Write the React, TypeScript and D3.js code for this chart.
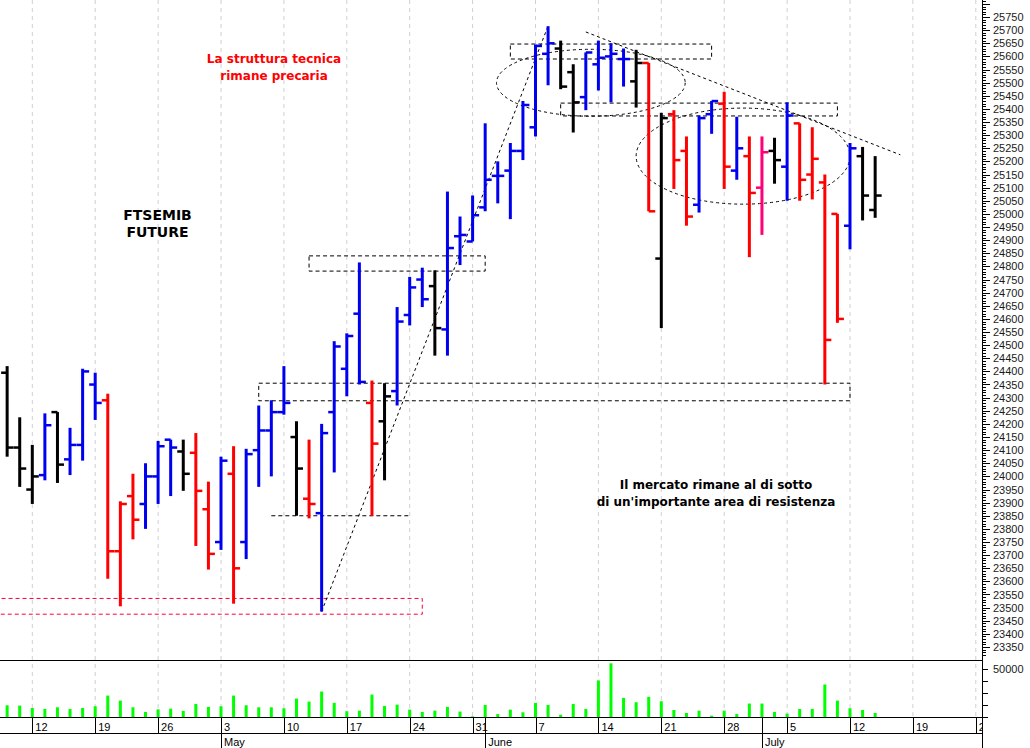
import React from 'react';
import * as d3 from 'd3';

// daily OHLC, FTSEMIB future, from Thu 8 Apr 2021 (index 0) to Wed 14 Jul 2021
const opens = [24395, 24110, 23950, 24005, 24245, 24065, 24120, 24350, 24290, 23715,
  23925, 23895, 24000, 24140, 24095, 24090, 23875, 23750, 24010, 23750,
  24100, 24175, 24245, 24150, 23915, 23860, 24245, 24410, 24620, 24280,
  24210, 24325, 24615, 24750, 24725, 24560, 24915, 24895, 25025, 25145,
  25165, 25240, 25330, 25610, 25630, 25540, 25445, 25570, 25600, 25590,
  25505, 25575, 24830, 25380, 25240, 25035, 25380, 25420, 25165, 25220,
  25100, 25240, 25180, 25345, 25150, 25120, 25000, 24955, 25220, 25015];
const highs = [24420, 24225, 24120, 24240, 24245, 24185, 24410, 24395, 24315, 23905,
  24010, 24050, 24135, 24140, 24140, 24165, 23980, 24075, 24115, 24105,
  24270, 24290, 24420, 24210, 24140, 24200, 24515, 24545, 24815, 24365,
  24355, 24645, 24760, 24795, 24785, 25085, 24990, 25070, 25345, 25200,
  25270, 25430, 25645, 25715, 25660, 25570, 25615, 25660, 25650, 25630,
  25625, 25575, 25385, 25395, 25295, 25375, 25430, 25465, 25370, 25295,
  25295, 25290, 25425, 25345, 25330, 25150, 25000, 25270, 25255, 25220];
const lows = [24075, 23960, 23895, 23985, 23975, 24005, 24060, 24215, 23610, 23505,
  23760, 23800, 23895, 23925, 23945, 23735, 23645, 23720, 23515, 23685,
  23960, 24000, 24235, 23850, 23840, 23485, 24015, 24305, 24350, 23850,
  23985, 24270, 24575, 24645, 24460, 24460, 24805, 24895, 25010, 25040,
  24980, 25205, 25295, 25490, 25475, 25310, 25395, 25470, 25425, 25485,
  25405, 25010, 24565, 25095, 24955, 25005, 25305, 25095, 25130, 24835,
  24920, 25115, 25050, 25050, 25055, 24350, 24585, 24865, 24975, 24985];
const closes = [24110, 24030, 24000, 24195, 24045, 24120, 24400, 24280, 23715, 23895,
  23835, 24000, 24115, 24110, 24010, 23945, 23705, 24060, 23650, 24085,
  24175, 24245, 24280, 24030, 23895, 24165, 24495, 24535, 24360, 24125,
  24305, 24590, 24720, 24675, 24565, 24870, 24920, 24995, 25130, 25145,
  25240, 25415, 25640, 25650, 25485, 25425, 25615, 25595, 25610, 25590,
  25575, 25010, 25365, 25205, 24990, 25365, 25430, 25180, 25250, 25080,
  25235, 25205, 25375, 25130, 25210, 24520, 24600, 25250, 25070, 25070];
// k = black, b = blue, r = red, p = pink
const barColors = ['k', 'k', 'k', 'b', 'k', 'b', 'b', 'b', 'r', 'r',
  'r', 'b', 'b', 'b', 'k', 'r', 'r', 'b', 'r', 'b',
  'b', 'b', 'b', 'k', 'r', 'b', 'b', 'b', 'b', 'r',
  'k', 'b', 'b', 'b', 'k', 'b', 'b', 'b', 'b', 'b',
  'b', 'b', 'b', 'b', 'k', 'k', 'b', 'b', 'b', 'b',
  'k', 'r', 'k', 'r', 'r', 'b', 'b', 'r', 'b', 'r',
  'p', 'k', 'b', 'r', 'r', 'r', 'r', 'b', 'k', 'k'];
const volumes = [12200, 11900, 9400, 8400, 10100, 8400, 9400, 11200, 22300, 17100,
  10100, 5200, 8000, 8700, 6300, 13600, 10500, 11200, 22300, 12200,
  10100, 10100, 9100, 19200, 16000, 26500, 14700, 6000, 6600, 23400,
  11500, 12900, 7700, 5200, 6600, 10500, 5600, 700, 12600, 3100,
  7700, 4900, 14700, 12600, 2400, 13600, 8400, 38100, 55900, 19900,
  15400, 21000, 16400, 7300, 4200, 6600, 1400, 6600, 3100, 14000,
  14000, 5200, 3500, 8400, 8400, 33900, 17100, 9100, 7300, 4200];

const weekLabels = ['12', '19', '26', '3', '10', '17', '24', '31', '7', '14', '21', '28', '5', '12', '19', '26'];
const weekIndex = [2, 7, 12, 17, 22, 27, 32, 37, 42, 47, 52, 57, 62, 67, 72, 77];
const monthLabels = ['May', 'June', 'July'];
const monthIndex = [17, 38, 60];

// annotations in data units: [fromIndex, toIndex, lowPrice, highPrice]
const boxes = [[40, 56, 25590, 25647], [44, 66, 25373, 25422], [24, 38, 24782, 24840], [20, 67, 24288, 24355]];
const redBox = [-1, 33, 23475, 23535];
const supportLine = [21, 32, 23850];
const trendLines = [[25, 23485, 43, 25716], [46, 25693, 71, 25225]];
const ellipses = [[38.9, 53.9, 25372, 25627], [50, 67, 25037, 25403]];

const colorOf: Record<string, string> = { k: '#000000', b: '#0000f0', r: '#ff0000', p: '#ff0077' };

const W = 1030;
const H = 748;
const axisX = 982;
const paneBottom = 660.5;
const volBase = 717;
const rowLine = 733;

export default function App() {
  const x = d3.scaleLinear().domain([2, 67]).range([32.3, 850]);
  const y = d3.scaleLinear().domain([23350, 25750]).range([647, 17]);
  const yv = d3.scaleLinear().domain([0, 50000]).range([volBase, 669]);

  const priceTicks = d3.range(23300, 25830, 10).filter(v => y(v) >= 0 && y(v) <= paneBottom - 4);
  const priceLabels = d3.range(23350, 25751, 50);
  const volTicks = d3.range(0, 50001, 12500);
  const axisFont = "'Liberation Sans', Arial, sans-serif";
  const noteFont = "'DejaVu Sans', Verdana, sans-serif";

  return (
    <svg width={W} height={H} style={{ position: 'absolute', left: 0, top: 0, background: '#fff' }}>
      <defs>
        <clipPath id="plot"><rect x={0} y={0} width={axisX} height={paneBottom} /></clipPath>
        <clipPath id="dates"><rect x={0} y={volBase} width={axisX} height={H - volBase} /></clipPath>
      </defs>

      {/* weekly grid */}
      {weekIndex.map((d, i) => (
        x(d) < axisX ? <line key={'g' + i} x1={x(d)} x2={x(d)} y1={0} y2={volBase} stroke="#cfcfd6" strokeDasharray="4 4" /> : null
      ))}

      {/* annotations */}
      <g clipPath="url(#plot)" fill="none" stroke="#000" strokeWidth={1}>
        {boxes.map((b, i) => (
          <rect key={'b' + i} x={x(b[0])} y={y(b[3])} width={x(b[1]) - x(b[0])} height={y(b[2]) - y(b[3])} strokeDasharray="4 3" />
        ))}
        <rect x={x(redBox[0])} y={y(redBox[3])} width={x(redBox[1]) - x(redBox[0])} height={y(redBox[2]) - y(redBox[3])}
          stroke="#ff0033" strokeDasharray="4 3" />
        <line x1={x(supportLine[0])} x2={x(supportLine[1])} y1={y(supportLine[2])} y2={y(supportLine[2])} strokeDasharray="4 3" />
        {trendLines.map((t, i) => (
          <line key={'t' + i} x1={x(t[0])} y1={y(t[1])} x2={x(t[2])} y2={y(t[3])} strokeDasharray="3 3" />
        ))}
        {ellipses.map((e, i) => (
          <ellipse key={'e' + i} cx={(x(e[0]) + x(e[1])) / 2} cy={(y(e[2]) + y(e[3])) / 2}
            rx={(x(e[1]) - x(e[0])) / 2} ry={(y(e[2]) - y(e[3])) / 2} strokeDasharray="3 3" />
        ))}
      </g>

      {/* OHLC bars */}
      <g clipPath="url(#plot)">
        {opens.map((o, i) => {
          const cx = x(i);
          const c = colorOf[barColors[i]];
          return (
            <g key={'bar' + i} fill={c}>
              <rect x={cx - 1.5} y={y(highs[i])} width={3} height={Math.max(2, y(lows[i]) - y(highs[i]))} />
              <rect x={cx - 6} y={y(o) - 1.2} width={6} height={2.5} />
              <rect x={cx} y={y(closes[i]) - 1.2} width={6.5} height={2.5} />
            </g>
          );
        })}
      </g>

      {/* volume */}
      {volumes.map((v, i) => (
        <rect key={'v' + i} x={x(i) - 1.5} y={yv(v)} width={3} height={volBase - yv(v)} fill="#00ff00" />
      ))}

      {/* frame lines */}
      <line x1={0} x2={axisX} y1={paneBottom} y2={paneBottom} stroke="#000" />
      <line x1={0} x2={axisX} y1={volBase + 0.5} y2={volBase + 0.5} stroke="#000" />
      <line x1={0} x2={axisX} y1={rowLine + 0.5} y2={rowLine + 0.5} stroke="#000" />
      <line x1={axisX + 0.5} x2={axisX + 0.5} y1={0} y2={H} stroke="#000" />

      {/* price axis */}
      {priceTicks.map(v => (
        <line key={'pt' + v} x1={axisX} x2={axisX + (v % 50 === 0 ? 8 : 4)} y1={Math.round(y(v)) + 0.5} y2={Math.round(y(v)) + 0.5} stroke="#000" />
      ))}
      {priceLabels.map(v => (
        <text key={'pl' + v} x={axisX + 11} y={y(v) + 4} fontFamily={axisFont} fontSize={11} fill="#1a1a1a">{v}</text>
      ))}

      {/* volume axis */}
      {volTicks.map(v => (
        <line key={'vt' + v} x1={axisX} x2={axisX + 6} y1={Math.round(yv(v)) + 0.5} y2={Math.round(yv(v)) + 0.5} stroke="#000" />
      ))}
      <text x={axisX + 11} y={yv(50000) + 4} fontFamily={axisFont} fontSize={11} fill="#1a1a1a">50000</text>

      {/* date axis */}
      <g clipPath="url(#dates)">
        {weekIndex.map((d, i) => (
          <g key={'w' + i}>
            <line x1={Math.round(x(d)) + 0.5} x2={Math.round(x(d)) + 0.5} y1={volBase} y2={rowLine} stroke="#000" />
            <text x={x(d) + 3} y={volBase + 13.5} fontFamily={axisFont} fontSize={11} fill="#000">{weekLabels[i]}</text>
          </g>
        ))}
        {monthIndex.map((d, i) => (
          <g key={'m' + i}>
            <line x1={Math.round(x(d)) + 0.5} x2={Math.round(x(d)) + 0.5} y1={volBase} y2={H} stroke="#000" />
            <text x={x(d) + 3} y={rowLine + 13} fontFamily={axisFont} fontSize={11} fill="#000">{monthLabels[i]}</text>
          </g>
        ))}
      </g>

      {/* notes */}
      <g fontFamily={noteFont} fontWeight="bold" textAnchor="middle">
        <text x={274} y={63} fontSize={12} fill="#ff0000">La struttura tecnica</text>
        <text x={274} y={80} fontSize={12} fill="#ff0000">rimane precaria</text>
        <text x={157.5} y={220} fontSize={14} fill="#000">FTSEMIB</text>
        <text x={157.5} y={237} fontSize={14} fill="#000">FUTURE</text>
        <text x={716} y={489} fontSize={12} fill="#000">Il mercato rimane al di sotto</text>
        <text x={716} y={506} fontSize={12} fill="#000">di un'importante area di resistenza</text>
      </g>
    </svg>
  );
}
